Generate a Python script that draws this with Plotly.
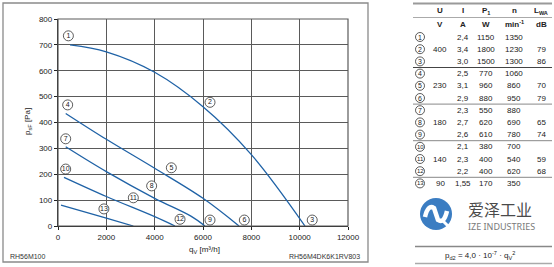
import plotly.graph_objects as go

W, H = 554, 267

# ---------------- data: fan curves (q_V [m3/h], p_sF [Pa]) ----------------
curve_a_q = [500, 2000, 4000, 6000, 8000, 10220]
curve_a_p = [700, 673, 594, 461, 276, 0]
curve_b_q = [318, 2000, 4000, 6000, 7490]
curve_b_p = [435, 335, 223, 107, 0]
curve_c_q = [318, 2000, 4000, 5500, 6080]
curve_c_p = [306, 210, 107, 38, 0]
curve_d_q = [248, 2000, 4000, 4840]
curve_d_p = [188, 114, 36, 0]
curve_e_q = [124, 2000, 3117]
curve_e_p = [81, 30, 0]

label_ids = ["1", "2", "3", "4", "5", "6", "7", "8", "9", "10", "11", "12", "13"]
label_q = [430, 6290, 10520, 400, 4690, 7710, 318, 3875, 6290, 318, 3117, 5050, 1900]
label_p = [735, 478, 23, 468, 225, 23, 337, 155, 23, 220, 109, 26, 66]

x_ticks = [0, 2000, 4000, 6000, 8000, 10000, 12000]
y_ticks = [0, 100, 200, 300, 400, 500, 600, 700, 800]

# ---------------- data: table ----------------
col_headers = ["U", "I", "P<sub>1</sub>", "n", "L<sub>WA</sub>"]
col_units = ["V", "A", "W", "min<sup>-1</sup>", "dB"]
tab_u = ["", "400", "", "", "230", "", "", "180", "", "", "140", "", "90"]
tab_i = ["2,4", "3,4", "3,0", "2,5", "3,1", "2,9", "2,3", "2,7", "2,6", "2,1", "2,3", "2,2", "1,55"]
tab_p = ["1150", "1800", "1500", "770", "960", "880", "550", "620", "610", "380", "400", "400", "170"]
tab_n = ["1350", "1230", "1300", "1060", "860", "950", "880", "690", "780", "700", "540", "620", "350"]
tab_l = ["", "79", "86", "", "70", "79", "", "65", "74", "", "59", "68", ""]

BLUE = "#1f62a6"
FONT = "Liberation Sans, Arial, sans-serif"

fig = go.Figure()
for q, p in [(curve_a_q, curve_a_p), (curve_b_q, curve_b_p), (curve_c_q, curve_c_p),
             (curve_d_q, curve_d_p), (curve_e_q, curve_e_p)]:
    fig.add_trace(go.Scatter(x=q, y=p, mode="lines",
                             line=dict(color=BLUE, width=1.3, shape="spline", smoothing=1.0),
                             hoverinfo="skip", showlegend=False))

fig.add_trace(go.Scatter(x=label_q, y=label_p, mode="markers+text", text=label_ids,
                         textposition="middle center", textfont=dict(size=7, color="#222", family=FONT),
                         marker=dict(symbol="circle", size=10, color="white", line=dict(color="#333", width=0.8)),
                         cliponaxis=False, showlegend=False, hoverinfo="skip"))


def px(x):
    return x / W


def py(y):
    return 1 - y / H


x0, x1 = 58, 348
y0, y1 = 226, 19

fig.update_layout(
    width=W, height=H, margin=dict(l=0, r=0, t=0, b=0),
    paper_bgcolor="white", plot_bgcolor="white",
    font=dict(family=FONT, size=8, color="#222"),
    xaxis=dict(domain=[px(x0), px(x1)], range=[0, 12000], tickvals=x_ticks, tickformat="d",
               showgrid=True, gridcolor="#5a5a5a", gridwidth=1.2, zeroline=False,
               showline=True, linecolor="#222", linewidth=1.3, ticks="outside", ticklen=3,
               tickcolor="#222", tickfont=dict(size=8, color="#222"), fixedrange=True, automargin=False),
    yaxis=dict(domain=[py(y0), py(y1)], range=[0, 800], tickvals=y_ticks, tickformat="d",
               showgrid=True, gridcolor="#5a5a5a", gridwidth=1.2, zeroline=False,
               showline=True, linecolor="#222", linewidth=1.3, ticks="outside", ticklen=3,
               tickcolor="#222", tickfont=dict(size=8, color="#222"), fixedrange=True, automargin=False),
)

shapes = []
ann = []


def text(x, y, s, size=8, color="#222", xanchor="center", family=None, angle=0):
    f = dict(size=size, color=color)
    if family:
        f["family"] = family
    ann.append(dict(xref="paper", yref="paper", x=px(x), y=py(y), text=s, showarrow=False,
                    xanchor=xanchor, yanchor="middle", textangle=angle, font=f))


def hline(xa, xb, y, color, width):
    shapes.append(dict(type="line", xref="paper", yref="paper", x0=px(xa), x1=px(xb), y0=py(y), y1=py(y),
                       line=dict(color=color, width=width)))


# outer frame of chart
shapes.append(dict(type="rect", xref="paper", yref="paper", x0=px(3), x1=px(368), y0=py(262), y1=py(3),
                   line=dict(color="#8a8a8a", width=1.3), layer="below"))
# top / right border of plot area
shapes.append(dict(type="rect", xref="paper", yref="paper", x0=px(x0), x1=px(x1), y0=py(y0), y1=py(y1),
                   line=dict(color="#5a5a5a", width=1.2)))

text(28, 121, "p<sub>sF</sub> [Pa]", angle=-90)
text(204, 250, "q<sub>V</sub> [m³/h]")
text(8, 256, "RH56M100", size=7, color="#333", xanchor="left")
text(362, 256, "RH56M4DK6K1RV803", size=7, color="#333", xanchor="right")

# ---------------- table ----------------
col_x = [440, 463, 486, 514, 541]
circ_x = 420
row_y0, row_dy = 37, 12.2
head_y, unit_y = 11, 24
for cx, h, u in zip(col_x, col_headers, col_units):
    text(cx, head_y, "<b>%s</b>" % h)
    text(cx, unit_y, "<b>%s</b>" % u)

for i, rid in enumerate(label_ids):
    ry = row_y0 + row_dy * i
    shapes.append(dict(type="circle", xref="paper", yref="paper", x0=px(circ_x - 4.5), x1=px(circ_x + 4.5),
                       y0=py(ry + 4.5), y1=py(ry - 4.5), line=dict(color="#333", width=0.8), fillcolor="white"))
    text(circ_x, ry, rid, size=7 if len(rid) == 1 else 6)
    for cx, vals in zip(col_x, [tab_u, tab_i, tab_p, tab_n, tab_l]):
        if vals[i]:
            text(cx, ry, vals[i])

tx0, tx1 = 413, 552
hline(tx0, tx1, 3.5, "#9a9a9a", 2)
hline(tx0, tx1, 17.5, "#aaaaaa", 1)
for k in [3, 6, 9, 12]:
    ly = row_y0 + row_dy * (k - 0.5)
    hline(tx0, tx1, ly, "#444" if k == 3 else "#888", 1)

# ---------------- logo ----------------
lcx, lcy, lr = 436, 214, 16
shapes.append(dict(type="circle", xref="paper", yref="paper", x0=px(lcx - lr), x1=px(lcx + lr),
                   y0=py(lcy + lr), y1=py(lcy - lr), line=dict(width=0), fillcolor="#3b7dc2"))
path = "M %f,%f Q %f,%f %f,%f L %f,%f Q %f,%f %f,%f" % (
    px(lcx - 11), py(lcy + 3), px(lcx - 8), py(lcy - 10), px(lcx - 2), py(lcy - 6),
    px(lcx + 2), py(lcy + 6), px(lcx + 8), py(lcy + 10), px(lcx + 11), py(lcy - 3))
shapes.append(dict(type="path", xref="paper", yref="paper", path=path, line=dict(color="white", width=4.5)))
shapes.append(dict(type="line", xref="paper", yref="paper", x0=px(lcx + 6), x1=px(lcx + 17), y0=py(lcy + 6),
                   y1=py(lcy + 17), line=dict(color="white", width=3)))
text(466, 209, "爱泽工业", size=16, color="#4a4a4a", xanchor="left", family="Noto Sans CJK SC")
text(466, 226, "IZE INDUSTRIES", size=9, color="#7a7a7a", xanchor="left", family="Noto Sans, sans-serif")

# ---------------- formula ----------------
hline(415, 552, 246.5, "#888", 1.3)
hline(415, 552, 263.5, "#aaa", 1.3)
text(480, 255.5, "p<sub>d2</sub> = 4,0 · 10<sup>-7</sup> · q<sub>V</sub><sup>2</sup>", size=8)

fig.update_layout(shapes=shapes, annotations=ann)
fig.write_html("out.html")
